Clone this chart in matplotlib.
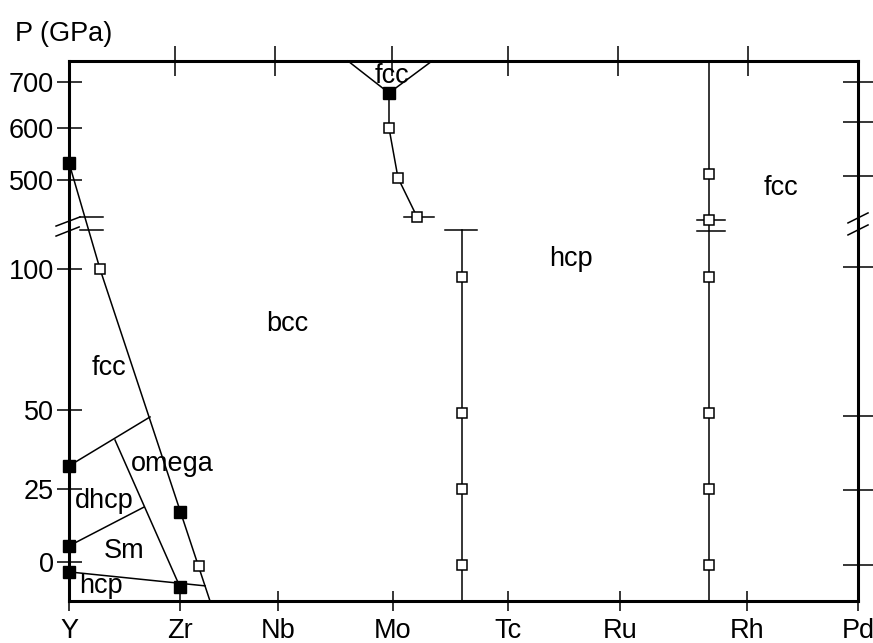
import numpy as np
import matplotlib
matplotlib.use('Agg')
from matplotlib import pyplot as plt

plt.rcParams['font.family'] = ['Liberation Sans', 'DejaVu Sans']
FS = 19.5

# element positions along the x axis (Y = 0 ... Pd = 7)
elements = ['Y', 'Zr', 'Nb', 'Mo', 'Tc', 'Ru', 'Rh', 'Pd']
element_x = [0.0, 0.985, 1.854, 2.875, 3.895, 4.889, 6.015, 7.0]
top_tick_x = [0.94, 1.83, 2.87, 3.895, 4.87, 6.02]

# broken pressure axis (GPa -> relative height)
p_knots = [-13.4, 0, 25, 50, 100, 500, 600, 700, 745.6]
h_knots = [0, 39, 112, 191, 332, 421, 473, 519, 540]
left_ticks = [0, 25, 50, 100, 500, 600, 700]
right_ticks = [-1, 24.7, 48.1, 109, 508, 613, 700]

# phase boundaries (x, P)
steep_x, steep_p = [0.0, 0.275, 1.251], [533, 100, -13.4]
fcc_x, fcc_p = [0.0, 0.719], [32.3, 47.8]
omega_x, omega_p = [0.408, 0.985], [40.5, -8.6]
dhcp_x, dhcp_p = [0.0, 0.665], [5.5, 18.8]
hcp_x, hcp_p = [0.0, 1.207], [-3.4, -8.2]
mo_x, mo_p = [2.839, 2.839, 2.919, 3.088], [676, 600, 504, 334]
mo_fcc_x, mo_fcc_p = [2.475, 2.839, 3.221], [745.6, 676, 745.6]
tc_x, tc_p = [3.487, 3.487], [275, -13.4]
rh_x, rh_p = [5.678, 5.678], [745.6, -13.4]

# measured points
filled_x = [0.0, 0.0, 0.0, 0.0, 0.985, 0.985, 2.839]
filled_p = [533, 32.3, 5.5, -3.4, 17.1, -8.6, 676]
open_x = [0.275, 1.153, 2.839, 2.919, 3.088,
          3.487, 3.487, 3.487, 3.487,
          5.678, 5.678, 5.678, 5.678, 5.678, 5.678]
open_p = [100, -1.4, 600, 504, 334,
          97, 49, 25, -1,
          511, 320, 97, 49, 25, -1]

# short horizontal bars (x0, x1, P)
bar_x0 = [0.098, 0.098, 2.972, 3.336, 5.572, 5.572]
bar_x1 = [0.302, 0.302, 3.239, 3.620, 5.820, 5.820]
bar_p = [334, 275, 334, 275, 320, 271]

# phase labels (text, x, P at baseline)
labels = ['fcc', 'omega', 'dhcp', 'Sm', 'hcp', 'bcc', 'hcp', 'fcc', 'fcc']
label_x = [0.355, 0.914, 0.311, 0.488, 0.284, 1.934, 4.454, 6.317, 2.866]
label_p = [62.4, 30.7, 18.5, 1.4, -10.6, 78, 113, 433, 698]

P_EXT = np.array([-1000.0] + p_knots + [5000.0])
H_EXT = np.array([-(1000 - 13.4) * 2.92] + h_knots + [540 + (5000 - 745.6) * 0.46])


def fwd(p):
    return np.interp(p, P_EXT, H_EXT)


def inv(h):
    return np.interp(h, H_EXT, P_EXT)


fig = plt.figure(figsize=(8.73, 6.43), dpi=100)
ax = fig.add_axes([69 / 873, 42 / 643, 789 / 873, 540 / 643])
ax.set_yscale('function', functions=(fwd, inv))
ax.set_xlim(0, 7)
ax.set_ylim(-13.4, 745.6)

lw = 1.1
for xs, ps in [(steep_x, steep_p), (fcc_x, fcc_p), (omega_x, omega_p), (dhcp_x, dhcp_p),
               (hcp_x, hcp_p), (mo_x, mo_p), (mo_fcc_x, mo_fcc_p), (tc_x, tc_p), (rh_x, rh_p)]:
    ax.plot(xs, ps, color='black', lw=lw, zorder=3, clip_on=False)

for x0, x1, p in zip(bar_x0, bar_x1, bar_p):
    ax.plot([x0, x1], [p, p], color='black', lw=lw, zorder=3)

ax.plot(open_x, open_p, 's', ms=7, mfc='white', mec='black', mew=1.1, zorder=5, clip_on=False)
ax.plot(filled_x, filled_p, 's', ms=8, mfc='black', mec='black', zorder=6, clip_on=False)

for t, x, p in zip(labels, label_x, label_p):
    ax.text(x, p, t, fontsize=FS, ha='center', va='baseline', zorder=4)

# axis break marks
for x0, x1, pa, pb in [(-0.115, 0.098, 293, 334), (-0.115, 0.09, 248, 289),
                       (6.911, 7.089, 307, 352), (6.911, 7.089, 253, 298)]:
    ax.plot([x0, x1], [pa, pb], color='black', lw=lw, clip_on=False, zorder=6)

for s in ax.spines.values():
    s.set_linewidth(2.2)
ax.spines['right'].set_visible(False)
ax.spines['top'].set_visible(False)

ax.set_xticks(element_x, elements)
ax.set_yticks(left_ticks, [str(v) for v in left_ticks])
ax.minorticks_off()
ax.tick_params(axis='y', direction='inout', length=18, width=1.1, pad=2, labelsize=FS)
ax.tick_params(axis='x', direction='inout', length=15, width=1.1, pad=5, labelsize=FS)

top = ax.secondary_xaxis('top')
top.set_xticks(top_tick_x, [''] * len(top_tick_x))
top.tick_params(direction='inout', length=21, width=1.1)
top.spines['top'].set_linewidth(2.2)

rax = ax.twinx()
rax.set_yscale('function', functions=(fwd, inv))
rax.set_ylim(-13.4, 745.6)
rax.set_yticks(right_ticks, [''] * len(right_ticks))
rax.minorticks_off()
rax.tick_params(axis='y', direction='inout', length=21, width=1.1)
for k in ['left', 'top', 'bottom']:
    rax.spines[k].set_visible(False)
rax.spines['right'].set_linewidth(2.2)

fig.text(15 / 873, 1 - 41 / 643, 'P (GPa)', fontsize=FS, ha='left', va='baseline')

fig.savefig('out.png', dpi=100)
